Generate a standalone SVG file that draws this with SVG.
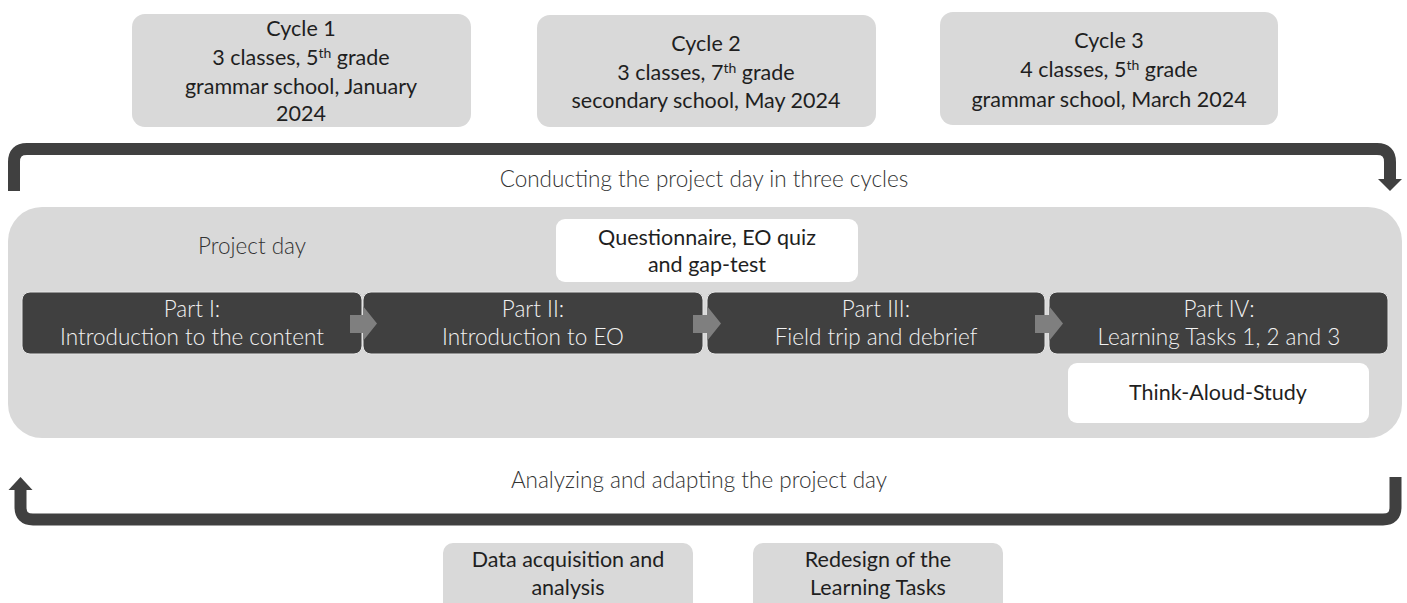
<svg xmlns="http://www.w3.org/2000/svg" width="1407" height="603" viewBox="0 0 1407 603">
  <style>
    .t { font-family: Lato, "Liberation Sans", sans-serif; font-size: 21.5px; fill: #1f1f1f; text-anchor: middle; }
    .tl { font-family: Lato, "Liberation Sans", sans-serif; font-weight: 300; font-size: 22.5px; fill: #333333; text-anchor: middle; }
    .pt { font-family: Lato, "Liberation Sans", sans-serif; font-weight: 300; font-size: 22.5px; fill: #f2f2f2; text-anchor: middle; }
    .grey { fill: #d9d9d9; }
    .white { fill: #ffffff; }
    .part { fill: #404040; stroke: #e6e6e6; stroke-width: 1; }
    .step { fill: #7f7f7f; }
    .loop { fill: none; stroke: #404040; stroke-width: 12; }
    .head { fill: #404040; }
  </style>

  <!-- cycles -->
  <g id="cycle1">
    <rect class="grey" x="132" y="14" width="339" height="113" rx="13"/>
    <text class="t" x="301" y="36">Cycle 1</text>
    <text class="t" x="301" y="65">3 classes, 5<tspan font-size="14" dy="-7">th</tspan><tspan dy="7"> grade</tspan></text>
    <text class="t" x="301" y="94">grammar school, January</text>
    <text class="t" x="301" y="121">2024</text>
  </g>
  <g id="cycle2">
    <rect class="grey" x="537" y="15" width="339" height="112" rx="13"/>
    <text class="t" x="706" y="51">Cycle 2</text>
    <text class="t" x="706" y="80">3 classes, 7<tspan font-size="14" dy="-7">th</tspan><tspan dy="7"> grade</tspan></text>
    <text class="t" x="706" y="108">secondary school, May 2024</text>
  </g>
  <g id="cycle3">
    <rect class="grey" x="940" y="12" width="338" height="113" rx="13"/>
    <text class="t" x="1109" y="48">Cycle 3</text>
    <text class="t" x="1109" y="77">4 classes, 5<tspan font-size="14" dy="-7">th</tspan><tspan dy="7"> grade</tspan></text>
    <text class="t" x="1109" y="107">grammar school, March 2024</text>
  </g>

  <!-- project day container -->
  <g id="project-day">
    <rect class="grey" x="8" y="207" width="1394" height="231" rx="34"/>
    <text class="tl" x="252" y="254">Project day</text>
  </g>

  <g id="questionnaire">
    <rect class="white" x="556" y="219" width="302" height="63" rx="9"/>
    <text class="t" x="707" y="245">Questionnaire, EO quiz</text>
    <text class="t" x="707" y="272">and gap-test</text>
  </g>

  <g id="part1">
    <rect class="part" x="22" y="292" width="340" height="62" rx="8"/>
    <text class="pt" x="192" y="317">Part I:</text>
    <text class="pt" x="192" y="345">Introduction to the content</text>
  </g>
  <g id="part2">
    <rect class="part" x="363" y="292" width="340" height="62" rx="8"/>
    <text class="pt" x="533" y="317">Part II:</text>
    <text class="pt" x="533" y="345">Introduction to EO</text>
  </g>
  <g id="part3">
    <rect class="part" x="707" y="292" width="338" height="62" rx="8"/>
    <text class="pt" x="876" y="317">Part III:</text>
    <text class="pt" x="876" y="345">Field trip and debrief</text>
  </g>
  <g id="part4">
    <rect class="part" x="1049" y="292" width="339" height="62" rx="8"/>
    <text class="pt" x="1219" y="317">Part IV:</text>
    <text class="pt" x="1219" y="345">Learning Tasks 1, 2 and 3</text>
  </g>

  <g id="think-aloud">
    <rect class="white" x="1068" y="363" width="301" height="60" rx="9"/>
    <text class="t" x="1218" y="400">Think-Aloud-Study</text>
  </g>

  <!-- bottom activities -->
  <g id="data-acquisition">
    <rect class="grey" x="443" y="543" width="250" height="70" rx="10"/>
    <text class="t" x="568" y="567">Data acquisition and</text>
    <text class="t" x="568" y="595">analysis</text>
  </g>
  <g id="redesign">
    <rect class="grey" x="753" y="543" width="250" height="70" rx="10"/>
    <text class="t" x="878" y="567">Redesign of the</text>
    <text class="t" x="878" y="595">Learning Tasks</text>
  </g>

  <!-- connectors -->
  <g id="connectors">
    <polygon class="step" points="350,315 363,315 363,306 377,323.5 363,341 363,333 350,333"/>
    <polygon class="step" points="693,315 707,315 707,306 721,323.5 707,341 707,333 693,333"/>
    <polygon class="step" points="1035,315 1049,315 1049,306 1063,323.5 1049,341 1049,333 1035,333"/>

    <path class="loop" d="M14,191 V162 Q14,149 27,149 H1377 Q1390,149 1390,162 V180"/>
    <polygon class="head" points="1378,179 1402,179 1390,191"/>
    <text class="tl" x="704" y="187">Conducting the project day in three cycles</text>

    <path class="loop" stroke-width="13" d="M1395.5,477 V507 Q1395.5,519.5 1383,519.5 H33 Q20.5,519.5 20.5,507 V489"/>
    <polygon class="head" points="8.5,490 32.5,490 20.5,477"/>
    <text class="tl" x="699" y="488">Analyzing and adapting the project day</text>
  </g>
</svg>
